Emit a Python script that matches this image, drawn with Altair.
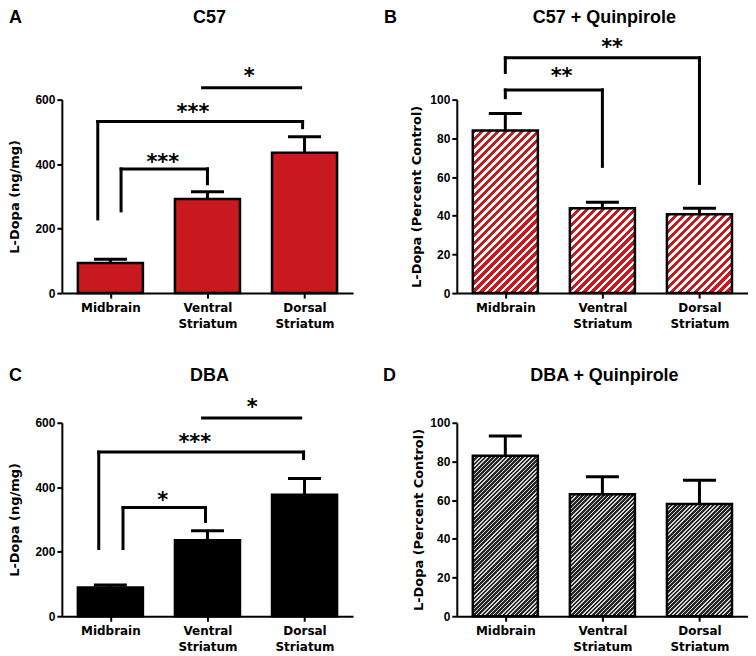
import json
import math
import altair as alt
import pandas as pd

# ---------------- data ----------------
categories = ["Midbrain", "Ventral Striatum", "Dorsal Striatum"]
positions = [0, 1, 2]

a_mean = [93, 292, 435]
a_err = [12, 22, 50]
b_mean = [84.0, 43.8, 40.7]
b_err = [8.8, 3.1, 3.1]
c_mean = [89, 236, 377]
c_err = [8, 29, 50]
d_mean = [82.9, 63.1, 58.0]
d_err = [10.3, 9.0, 12.3]

# brackets: [x_left, x_right, y_top, y_left_end, y_right_end]
a_brackets = [[-0.13, 1.98, 532, 230, 513], [0.11, 1.0, 385, 255, 339], [0.95, 1.96, 637, 637, 637]]
a_stars = [["***", 0.85, 574], ["***", 0.54, 420], ["*", 1.43, 685]]
b_brackets = [[0.0, 1.0, 105, 101, 65.5], [0.0, 2.0, 121.6, 114, 56.7]]
b_stars = [["**", 0.58, 114.4], ["**", 1.10, 129.2]]
c_brackets = [[-0.12, 1.99, 509, 210, 489], [0.13, 0.98, 337, 210, 294], [0.95, 1.96, 615, 615, 615]]
c_stars = [["***", 0.87, 553.6], ["*", 0.54, 374], ["*", 1.46, 662]]

# ---------------- layout / style ----------------
W, H = 292, 194
XDOM = [-0.5, 2.5]
HALF = 0.335
CAP = 0.17
RED = "#C8191E"
BAR_PX = 2 * HALF / (XDOM[1] - XDOM[0]) * W


def hatch_chunk(hc, oy, c1, c2, p, frac):
    """Diagonal '/' stripes for a rect chunk (pixel height hc) whose top lies oy px below bar top."""
    w = BAR_PX
    total = w + hc
    k = total / (w * w + hc * hc)
    stops = []
    a = -(oy % p)
    while a < total:
        for s, e, c in ((a, a + frac * p, c1), (a + frac * p, a + p, c2)):
            s2, e2 = max(s, 0.0), min(e, total)
            if e2 > s2:
                stops += [{"offset": round(s2 / total, 5), "color": c},
                          {"offset": round(e2 / total, 5), "color": c}]
        a += p
    return {"gradient": "linear", "x1": 0, "y1": 0, "x2": k * w, "y2": k * hc, "stops": stops}


def hatch_records(mean, ymax, c1, c2, p, frac):
    recs = []
    for i, v in enumerate(mean):
        h_px = v / ymax * H
        n = max(1, math.ceil(h_px / 45))
        ch = h_px / n
        for j in range(n):
            oy = j * ch
            yhi = v - oy / H * ymax
            ext = ch + (1.0 if j < n - 1 else 0.0)
            ylo = max(v - (oy + ext) / H * ymax, 0.0)
            hc = (yhi - ylo) / ymax * H
            recs.append({"pos": positions[i], "yhi": yhi, "ylo": ylo,
                         "grad": hatch_chunk(hc, oy, c1, c2, p, frac)})
    return recs


label_expr = json.dumps([c.split(" ") for c in categories]) + "[datum.value]"


def panel(letter, title, mean, err, ymax, yticks, ytitle, fill, brackets, stars,
          letter_x, text_y, title_pad):
    xs = alt.Scale(domain=XDOM, nice=False, zero=False)
    ys = alt.Scale(domain=[0, ymax], nice=False, zero=True)
    df = pd.DataFrame({"pos": positions, "cat": categories, "mean": mean, "err": err})
    df["top"] = df["mean"] + df["err"]

    xaxis = alt.Axis(values=positions, labelExpr=label_expr, title=None, grid=False,
                     labelFlush=False, labelOverlap=False, labelFont="DejaVu Sans",
                     labelFontSize=12, labelFontWeight="bold", labelPadding=4,
                     labelLineHeight=16, labelBaseline="top")
    yaxis = alt.Axis(values=yticks, title=ytitle, grid=False, titlePadding=title_pad)

    def X(f):
        return alt.X(f, scale=xs, axis=xaxis, title=None)

    def Y(f):
        return alt.Y(f, scale=ys, axis=yaxis, title=ytitle)

    layers = []
    if fill == "hatch_red":
        hrecs = hatch_records(mean, ymax, RED, "#ffffff", 8, 0.55)
    elif fill == "hatch_dark":
        hrecs = hatch_records(mean, ymax, "#262626", "#d6d6d6", 4.2, 0.64)
    else:
        hrecs = None

    if hrecs is not None:
        hatch_layer = alt.Chart(alt.Data(values=hrecs)).transform_calculate(
            x0=f"datum.pos - {HALF}", x1=f"datum.pos + {HALF}"
        ).mark_rect(strokeWidth=0).encode(
            x=X("x0:Q"), x2="x1:Q", y=Y("yhi:Q"), y2="ylo:Q",
            fill=alt.Fill("grad:N", scale=None, legend=None),
        )
        layers.append(hatch_layer)
        bar_fill = {"fillOpacity": 0}
    else:
        bar_fill = {"fill": fill}

    bars = alt.Chart(df).transform_calculate(
        x0=f"datum.pos - {HALF}", x1=f"datum.pos + {HALF}", zero="0"
    ).mark_rect(stroke="black", strokeWidth=2.5, **bar_fill).encode(
        x=X("x0:Q"), x2="x1:Q", y=Y("mean:Q"), y2="zero:Q",
    )
    stem = alt.Chart(df).mark_rule(strokeWidth=3, color="black").encode(
        x=X("pos:Q"), y=Y("mean:Q"), y2="top:Q",
    )
    cap = alt.Chart(df).transform_calculate(
        c0=f"datum.pos - {CAP}", c1=f"datum.pos + {CAP}"
    ).mark_rule(strokeWidth=3, color="black").encode(
        x=X("c0:Q"), x2="c1:Q", y=Y("top:Q"),
    )
    layers += [bars, stem, cap]

    if brackets:
        segs = []
        for xl, xr, yt, yl, yr in brackets:
            segs.append({"xa": xl, "xb": xr, "ya": yt, "yb": yt})
            if yl != yt:
                segs.append({"xa": xl, "xb": xl, "ya": yt, "yb": yl})
            if yr != yt:
                segs.append({"xa": xr, "xb": xr, "ya": yt, "yb": yr})
        seg = alt.Chart(pd.DataFrame(segs)).mark_rule(
            strokeWidth=3, color="black", strokeCap="square"
        ).encode(x=X("xa:Q"), x2="xb:Q", y=Y("ya:Q"), y2="yb:Q")
        st = alt.Chart(pd.DataFrame(stars, columns=["s", "x", "y"])).mark_text(
            font="DejaVu Sans", fontWeight="bold", fontSize=21, dy=11,
            baseline="alphabetic", align="center", color="black"
        ).encode(x=X("x:Q"), y=Y("y:Q"), text="s:N")
        layers += [seg, st]

    ttl = alt.Chart(pd.DataFrame({"t": [title]})).mark_text(
        font="Liberation Sans", fontWeight="bold", fontSize=18, align="center",
        baseline="alphabetic", color="black"
    ).encode(x=alt.value(W / 2 + 2), y=alt.value(text_y), text="t:N")
    let = alt.Chart(pd.DataFrame({"t": [letter]})).mark_text(
        font="Liberation Sans", fontWeight="bold", fontSize=18, align="left",
        baseline="alphabetic", color="black"
    ).encode(x=alt.value(letter_x), y=alt.value(text_y), text="t:N")
    layers += [ttl, let]
    return alt.layer(*layers).properties(width=W, height=H)


pA = panel("A", "C57", a_mean, a_err, 600, [0, 200, 400, 600], "L-Dopa (ng/mg)",
           RED, a_brackets, a_stars, -53, -77, 13)
pB = panel("B", "C57 + Quinpirole", b_mean, b_err, 100, [0, 20, 40, 60, 80, 100],
           "L-Dopa (Percent Control)", "hatch_red", b_brackets, b_stars, -73, -77, 6)
pC = panel("C", "DBA", c_mean, c_err, 600, [0, 200, 400, 600], "L-Dopa (ng/mg)",
           "black", c_brackets, c_stars, -53, -42, 13)
pD = panel("D", "DBA + Quinpirole", d_mean, d_err, 100, [0, 20, 40, 60, 80, 100],
           "L-Dopa (Percent Control)", "hatch_dark", None, None, -74, -42, 4)

chart = alt.concat(
    pA, pB, pC, pD, columns=2, spacing={"row": 130, "column": 104}, bounds="flush"
).properties(padding=0).configure_view(
    stroke=None
).configure_axis(
    domainColor="black", domainWidth=2, tickColor="black", tickWidth=2, tickSize=5,
    labelFont="Liberation Sans", labelFontSize=12, labelFontWeight="bold",
    labelColor="black", labelPadding=2, titleFont="DejaVu Sans",
    titleFontSize=13, titleFontWeight="bold", titleColor="black",
)

chart.save("out.html", embed_options={"renderer": "svg", "actions": False})
